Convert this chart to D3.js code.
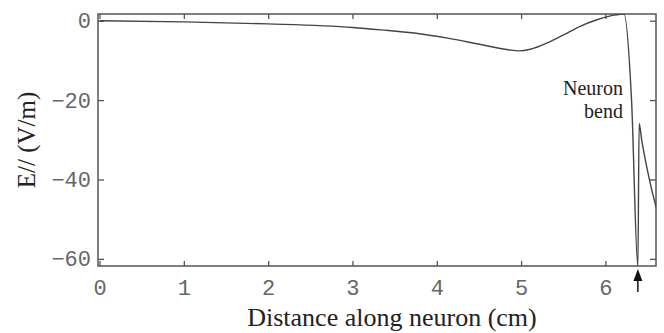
<!DOCTYPE html>
<html>
<head>
<meta charset="utf-8">
<script src="https://cdn.jsdelivr.net/npm/d3@7"></script>
<style>
  body { margin: 0; background: #fff; }
  svg { display: block; }
</style>
</head>
<body>
<div id="chart"></div>
<script>
// distance along neuron (cm) and field E// (V/m)
const distance = [0, 1, 2, 3, 3.34, 3.73, 4.13, 4.52, 4.85, 4.97, 5.11, 5.31, 5.51, 5.70, 5.90, 6.10, 6.22, 6.31, 6.385, 6.40, 6.43, 6.49, 6.55, 6.61];
const field    = [0, -0.3, -0.8, -1.7, -2.3, -3.1, -4.4, -6.0, -7.3, -7.6, -7.2, -5.6, -3.5, -1.4, 0.25, 1.4, 1.7, -20, -62, -25.9, -30, -36.8, -42.6, -47.7];

const xTicks = [0, 1, 2, 3, 4, 5, 6];
const yTicks = [0, -20, -40, -60];
const bendAt = 6.385;

const W = 664, H = 333;
const plotLeft = 98, plotRight = 656, plotTop = 14, plotBottom = 266;

const svg = d3.select("#chart").append("svg")
    .attr("width", W)
    .attr("height", H);

const x = d3.scaleLinear().domain([-0.018, 6.6]).range([plotLeft, plotRight]);
const y = d3.scaleLinear().domain([1.69, -61.8]).range([plotTop, plotBottom]);

const frameColor = "#555";
const tickFont = "'Liberation Mono', 'DejaVu Sans Mono', monospace";
const serif = "'Liberation Serif', 'Times New Roman', serif";

/**
 * style an axis: grey lines, inward ticks, no domain path
 */
function styleAxis(g, showText){
    g.select(".domain").remove();
    g.selectAll("line").attr("stroke", frameColor).attr("stroke-width", 1.3);
    if (showText){
        g.selectAll("text")
        .attr("fill", "#666")
        .style("font-family", tickFont)
        .style("font-size", "22px");
    } else {
        g.selectAll("text").remove();
    }
}

svg.append("g")
    .attr("transform", "translate(0," + plotBottom + ")")
    .call(d3.axisBottom(x).tickValues(xTicks).tickSizeInner(-5).tickPadding(13).tickFormat(d3.format("d")))
    .call(g => styleAxis(g, true));

svg.append("g")
    .attr("transform", "translate(0," + plotTop + ")")
    .call(d3.axisTop(x).tickValues(xTicks).tickSizeInner(-5))
    .call(g => styleAxis(g, false));

svg.append("g")
    .attr("transform", "translate(" + plotLeft + ",0)")
    .call(d3.axisLeft(y).tickValues(yTicks).tickSizeInner(-6).tickPadding(7).tickFormat(d3.format("d")))
    .call(g => styleAxis(g, true));

svg.append("g")
    .attr("transform", "translate(" + plotRight + ",0)")
    .call(d3.axisRight(y).tickValues(yTicks).tickSizeInner(-6))
    .call(g => styleAxis(g, false));

// frame
svg.append("rect")
    .attr("x", plotLeft).attr("y", plotTop)
    .attr("width", plotRight - plotLeft).attr("height", plotBottom - plotTop)
    .attr("fill", "none")
    .attr("stroke", frameColor)
    .attr("stroke-width", 1.5);

svg.append("clipPath").attr("id", "plotClip")
    .append("rect")
    .attr("x", plotLeft).attr("y", plotTop)
    .attr("width", plotRight - plotLeft).attr("height", plotBottom - plotTop);

const line = d3.line()
    .x((d, i) => x(distance[i]))
    .y(d => y(d))
    .curve(d3.curveMonotoneX);

svg.append("path")
    .datum(field)
    .attr("clip-path", "url(#plotClip)")
    .attr("d", line)
    .attr("fill", "none")
    .attr("stroke", "#444")
    .attr("stroke-width", 1.4);

// neuron bend label
const label = svg.append("text")
    .attr("text-anchor", "end")
    .attr("fill", "#222")
    .style("font-family", serif)
    .style("font-size", "20px");
label.append("tspan").attr("x", 623).attr("y", 95).text("Neuron");
label.append("tspan").attr("x", 623).attr("y", 118).text("bend");

// arrow under the bend
const ax = x(bendAt);
svg.append("line")
    .attr("x1", ax).attr("x2", ax)
    .attr("y1", 278).attr("y2", 292)
    .attr("stroke", "#111").attr("stroke-width", 1.5);
svg.append("path")
    .attr("d", d3.line()([[ax, 269], [ax - 4.5, 281], [ax + 4.5, 281]]) + "Z")
    .attr("fill", "#111");

// axis titles
svg.append("text")
    .attr("x", 392)
    .attr("y", 326)
    .attr("text-anchor", "middle")
    .attr("fill", "#222")
    .style("font-family", serif)
    .style("font-size", "26px")
    .text("Distance along neuron (cm)");

svg.append("text")
    .attr("transform", "translate(35,140) rotate(-90)")
    .attr("text-anchor", "middle")
    .attr("fill", "#222")
    .style("font-family", serif)
    .style("font-size", "25px")
    .text("E// (V/m)");
</script>
</body>
</html>
